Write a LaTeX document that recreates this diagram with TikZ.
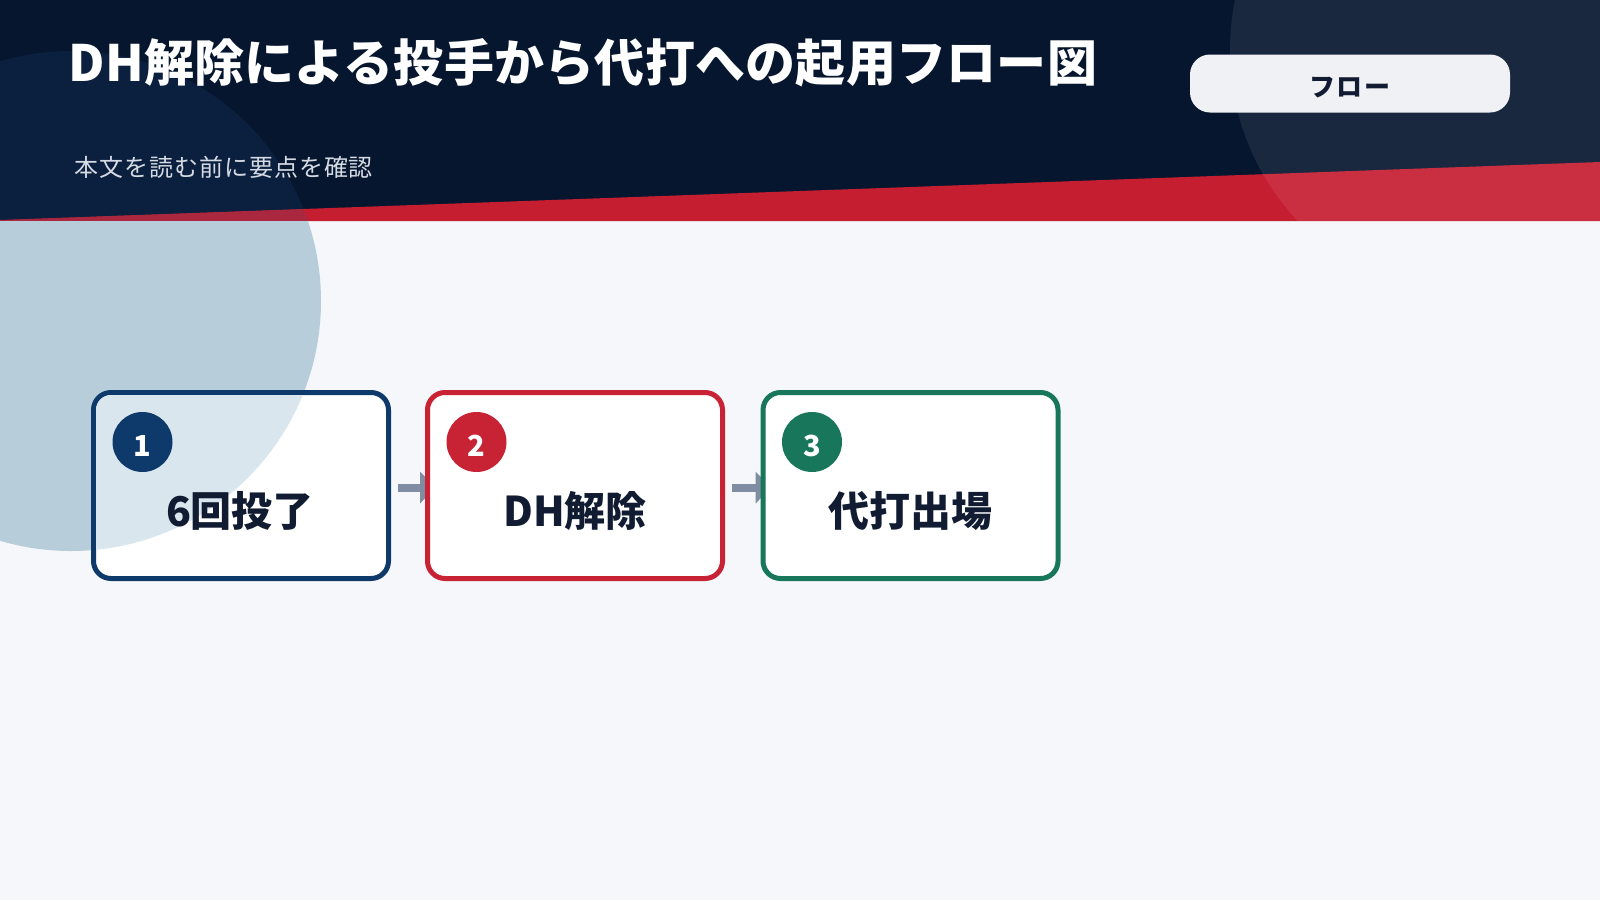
\documentclass[tikz,border=0pt]{standalone}
\usepackage{fontspec}
\setmainfont{Noto Sans CJK JP}
\newfontfamily\subfont[LetterSpace=4]{Noto Sans CJK JP}
\newfontfamily\titlefont[LetterSpace=0.5]{Noto Sans CJK JP}
\newfontfamily\tagfont[LetterSpace=5]{Noto Sans CJK JP}
\usetikzlibrary{arrows.meta}
\definecolor{navy}{HTML}{07162F}
\definecolor{circhead}{HTML}{0B1F3E}
\definecolor{redb}{HTML}{C51E30}
\definecolor{circred}{HTML}{A92840}
\definecolor{circbody}{HTML}{B7CDDA}
\definecolor{bgc}{HTML}{F5F7FB}
\definecolor{circbox}{HTML}{DAE6EE}
\definecolor{cblue}{HTML}{0E3A6B}
\definecolor{cred}{HTML}{C82335}
\definecolor{cgreen}{HTML}{18775A}
\definecolor{arrowc}{HTML}{7F8CA1}
\definecolor{textdark}{HTML}{111C32}
\definecolor{pillc}{HTML}{EFF1F4}
\definecolor{subc}{HTML}{D5DBE4}
\pgfdeclarelayer{back}
\pgfdeclarelayer{arr}
\pgfsetlayers{back,arr,main}
\tikzset{
  stepbox/.style={rectangle, rounded corners=8.75pt, minimum width=147.5pt, minimum height=93pt,
    inner sep=0pt, outer sep=0pt, fill=white, draw=#1, line width=2.5pt},
  numdot/.style={circle, minimum size=30pt, inner sep=0pt, fill=#1},
  numtxt/.style={text=white, font=\bfseries\fontsize{14.5pt}{16pt}\selectfont, inner sep=0pt},
  steplabel/.style={text=textdark, font=\bfseries\fontsize{20.5pt}{24pt}\selectfont, inner sep=0pt},
  flowarrow/.style={draw=arrowc, line width=4pt, -{Triangle[width=15.5pt,length=8pt]}},
  pillbox/.style={rectangle, rounded corners=10pt, minimum width=160pt, minimum height=29pt,
    inner sep=0pt, fill=pillc},
}
\begin{document}
\begin{tikzpicture}[x=0.5pt,y=-0.5pt]
\useasboundingbox (0,0) rectangle (1600,900);
\begin{pgfonlayer}{back}
  \fill[bgc] (0,0) rectangle (1600,900);
  \fill[navy] (0,0) rectangle (1600,221);
  \fill[redb] (0,220) -- (1600,162) -- (1600,221) -- (0,221) -- cycle;
  \begin{scope}
    \clip (0,0) -- (1600,0) -- (1600,162) -- (0,220) -- cycle;
    \fill[circhead] (71,301) circle[radius=125pt];
  \end{scope}
  \begin{scope}
    \clip (0,220) -- (1600,162) -- (1600,221) -- (0,221) -- cycle;
    \fill[circred] (71,301) circle[radius=125pt];
  \end{scope}
  \begin{scope}
    \clip (0,221) rectangle (1600,900);
    \fill[circbody] (71,301) circle[radius=125pt];
  \end{scope}
  \fill[white, opacity=0.08] (1480,50) circle[radius=125pt];
\end{pgfonlayer}

% header texts
\node[anchor=west, inner sep=0pt, text=white, font=\titlefont\bfseries\fontsize{25pt}{30pt}\selectfont] (title) at (68,63) {DH解除による投手から代打への起用フロー図};
\node[anchor=west, inner sep=0pt, text=subc, font=\subfont\fontsize{12pt}{14pt}\selectfont] (sub) at (74,167.5) {本文を読む前に要点を確認};
\node[pillbox] (tag) at (1350,83.5) {};
\node[text=textdark, inner sep=0pt, font=\tagfont\bfseries\fontsize{13pt}{15pt}\selectfont] (tagtxt) at (1350,88) {フロー};

% boxes
\node[stepbox=cblue] (b1) at (241,485.5) {};
\begin{scope}
  \clip[rounded corners=7.5pt] (96,395) rectangle (386,576);
  \fill[circbox] (71,301) circle[radius=125pt];
\end{scope}
\node[stepbox=cred] (b2) at (575,485.5) {};
\node[stepbox=cgreen] (b3) at (910.5,485.5) {};

\node[numdot=cblue] (n1) at (142.5,442) {};
\node[numdot=cred] (n2) at (476.5,442) {};
\node[numdot=cgreen] (n3) at (812,442) {};
\node[numtxt] at (142.5,446) {1};
\node[numtxt] at (476.5,446) {2};
\node[numtxt] at (812,446) {3};

\node[steplabel] (l1) at (240,510.5) {6回投了};
\node[steplabel] (l2) at (575,510.5) {DH解除};
\node[steplabel] (l3) at (910.5,510.5) {代打出場};

\begin{pgfonlayer}{arr}
  \draw[flowarrow] ([xshift=4.75pt,yshift=-1pt]b1.east) -- ([xshift=4.25pt,yshift=-1pt]b2.west);
  \draw[flowarrow] ([xshift=4.75pt,yshift=-1pt]b2.east) -- ([xshift=4.25pt,yshift=-1pt]b3.west);
\end{pgfonlayer}
\end{tikzpicture}
\end{document}
